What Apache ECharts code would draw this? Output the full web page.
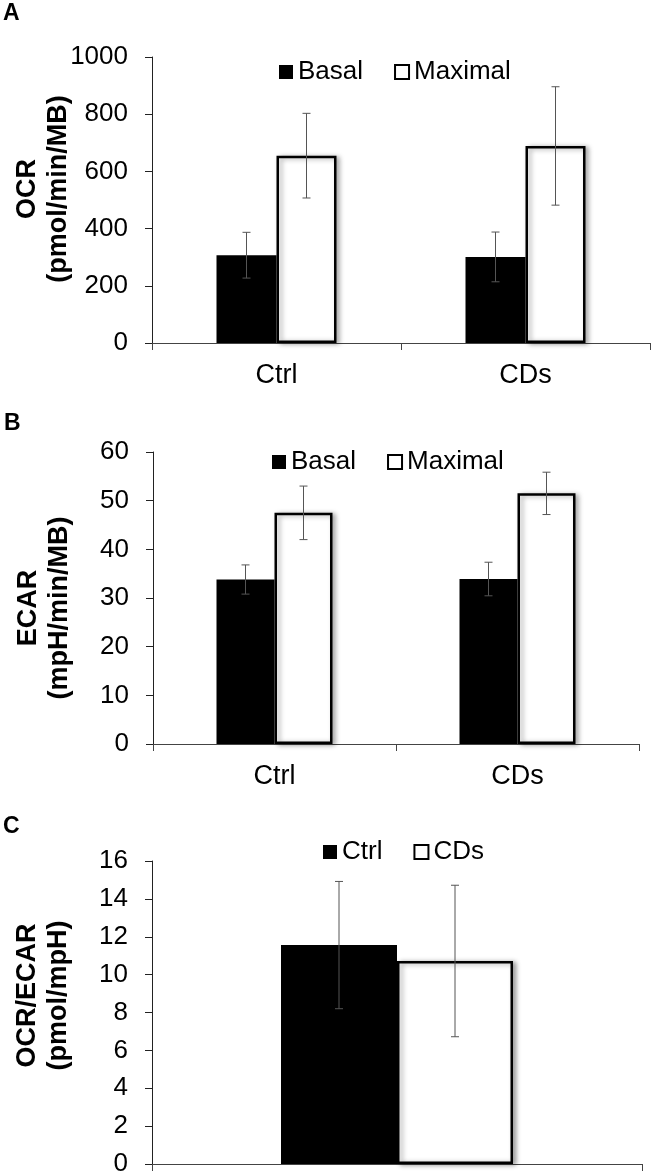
<!DOCTYPE html>
<html>
<head>
<meta charset="utf-8">
<script src="https://cdn.jsdelivr.net/npm/echarts@6/dist/echarts.min.js"></script>
<style>
html,body{margin:0;padding:0;background:#fff;}
#chart{width:653px;height:1175px;}
</style>
</head>
<body>
<div id="chart"></div>
<script>
// ---- Data ----
const groupCategories = ['Ctrl', 'CDs'];
const ocrBasal = [307, 301];
const ocrBasalErr = [80, 87];
const ocrMaximal = [655, 689];
const ocrMaximalErr = [148, 207];

const ecarBasal = [33.8, 33.9];
const ecarBasalErr = [3.0, 3.45];
const ecarMaximal = [47.5, 51.5];
const ecarMaximalErr = [5.5, 4.35];

const ratioCategories = [''];
const ratioCtrl = [11.56];
const ratioCtrlErr = [3.36];
const ratioCDs = [10.72];
const ratioCDsErr = [4.0];

const ocrTicks = {min: 0, max: 1000, interval: 200};
const ecarTicks = {min: 0, max: 60, interval: 10};
const ratioTicks = {min: 0, max: 16, interval: 2};

// ---- Styles ----
const FONT = '"Liberation Sans", Arial, sans-serif';
const blackBar = {color: '#000', borderColor: '#000', borderWidth: 0};
const whiteBar = {color: '#fff', borderColor: '#000', borderWidth: 2.5,
  shadowColor: 'rgba(0,0,0,0.35)', shadowBlur: 5, shadowOffsetX: 3, shadowOffsetY: 1};

function errSeries(name, xi, yi, means, errs, offset) {
  return {
    type: 'custom', name: name + ' err', xAxisIndex: xi, yAxisIndex: yi, z: 5,
    silent: true,
    encode: {x: 0, y: [1, 2]},
    data: means.map((m, i) => [i, m - errs[i], m + errs[i]]),
    renderItem: function (params, api) {
      const hi = api.coord([api.value(0), api.value(2)]);
      const lo = api.coord([api.value(0), api.value(1)]);
      const x = hi[0] + offset;
      const cap = 4;
      const st = {stroke: '#555', lineWidth: 1};
      return {type: 'group', children: [
        {type: 'line', shape: {x1: x, y1: hi[1], x2: x, y2: lo[1]}, style: st},
        {type: 'line', shape: {x1: x - cap, y1: hi[1], x2: x + cap, y2: hi[1]}, style: st},
        {type: 'line', shape: {x1: x - cap, y1: lo[1], x2: x + cap, y2: lo[1]}, style: st}
      ]};
    }
  };
}

function xAxisCfg(gi, cats, showLabel) {
  return {
    type: 'category', gridIndex: gi, data: cats,
    axisLine: {lineStyle: {color: '#444', width: 1}},
    axisTick: {show: true, length: 7, lineStyle: {color: '#444'}},
    axisLabel: {show: showLabel, color: '#000', fontFamily: FONT, fontSize: 27, margin: 19}
  };
}
function yAxisCfg(gi, t, name, padLeft, padRight) {
  return {
    type: 'value', gridIndex: gi, min: t.min, max: t.max, interval: t.interval,
    name: name, nameLocation: 'middle', nameGap: 78, nameMoveOverlap: false,
    nameTextStyle: {color: '#000', fontFamily: FONT, fontSize: 27, fontWeight: 'bold', lineHeight: 31,
      padding: [0, padRight, 0, padLeft]},
    axisLine: {show: true, lineStyle: {color: '#222', width: 1}},
    axisTick: {show: true, length: 7, lineStyle: {color: '#222'}},
    splitLine: {show: false},
    axisLabel: {color: '#000', fontFamily: FONT, fontSize: 26, margin: 24,
      formatter: function (v) { return String(v); }}
  };
}
function legendCfg(left, top, names) {
  return {
    left: left, top: top, padding: 0, itemWidth: 14, itemHeight: 14, itemGap: 31, icon: 'rect',
    textStyle: {color: '#000', fontFamily: FONT, fontSize: 26},
    selectedMode: false,
    data: [
      {name: names[0], itemStyle: {color: '#000', borderWidth: 0, shadowBlur: 0, shadowOffsetX: 0, shadowOffsetY: 0}},
      {name: names[1], itemStyle: {color: '#fff', borderColor: '#000', borderWidth: 2, shadowBlur: 0, shadowOffsetX: 0, shadowOffsetY: 0}}
    ]
  };
}
const letterStyle = {fontFamily: '"Liberation Sans", Arial, sans-serif', fontWeight: 'bold', fontSize: 23, color: '#000'};

const chart = echarts.init(document.getElementById('chart'), null, {renderer: 'canvas'});
const option = {
  backgroundColor: '#fff',
  animation: false,
  textStyle: {fontFamily: FONT},
  title: [
    {text: 'A', left: 3, top: 2, padding: 0, textStyle: letterStyle},
    {text: 'B', left: 4, top: 412, padding: 0, textStyle: letterStyle},
    {text: 'C', left: 3, top: 815, padding: 0, textStyle: letterStyle}
  ],
  legend: [
    legendCfg(279, 59, ['Basal', 'Maximal']),
    legendCfg(272, 449, ['Basal', 'Maximal']),
    legendCfg(323, 839, ['Ctrl', 'CDs'])
  ],
  grid: [
    {left: 152, right: 3, top: 57, height: 286, outerBoundsMode: 'none', containLabel: false},
    {left: 153, right: 14, top: 452, height: 292, outerBoundsMode: 'none', containLabel: false},
    {left: 152, right: 11, top: 861, height: 303, outerBoundsMode: 'none', containLabel: false}
  ],
  xAxis: [
    xAxisCfg(0, groupCategories, true),
    xAxisCfg(1, groupCategories, true),
    xAxisCfg(2, ratioCategories, false)
  ],
  yAxis: [
    yAxisCfg(0, ocrTicks, 'OCR\n(pmol/min/MB)', 22, 0),
    yAxisCfg(1, ecarTicks, 'ECAR\n(mpH/min/MB)', 0, 20),
    yAxisCfg(2, ratioTicks, 'OCR/ECAR\n(pmol/mpH)', 34, 0)
  ],
  series: [
    {type: 'bar', name: 'Basal', xAxisIndex: 0, yAxisIndex: 0, data: ocrBasal, barWidth: 60, barGap: '0%', itemStyle: blackBar},
    {type: 'bar', name: 'Maximal', xAxisIndex: 0, yAxisIndex: 0, data: ocrMaximal, barWidth: 60, barGap: '0%', itemStyle: whiteBar},
    errSeries('Basal A', 0, 0, ocrBasal, ocrBasalErr, -30),
    errSeries('Maximal A', 0, 0, ocrMaximal, ocrMaximalErr, 30),

    {type: 'bar', name: 'Basal', xAxisIndex: 1, yAxisIndex: 1, data: ecarBasal, barWidth: 58, barGap: '0%', itemStyle: blackBar},
    {type: 'bar', name: 'Maximal', xAxisIndex: 1, yAxisIndex: 1, data: ecarMaximal, barWidth: 58, barGap: '0%', itemStyle: whiteBar},
    errSeries('Basal B', 1, 1, ecarBasal, ecarBasalErr, -29),
    errSeries('Maximal B', 1, 1, ecarMaximal, ecarMaximalErr, 29),

    {type: 'bar', name: 'Ctrl', xAxisIndex: 2, yAxisIndex: 2, data: ratioCtrl, barWidth: 116, barGap: '0%', itemStyle: blackBar},
    {type: 'bar', name: 'CDs', xAxisIndex: 2, yAxisIndex: 2, data: ratioCDs, barWidth: 116, barGap: '0%', itemStyle: whiteBar},
    errSeries('Ctrl C', 2, 2, ratioCtrl, ratioCtrlErr, -58),
    errSeries('CDs C', 2, 2, ratioCDs, ratioCDsErr, 58)
  ]
};
chart.setOption(option);
</script>
</body>
</html>
